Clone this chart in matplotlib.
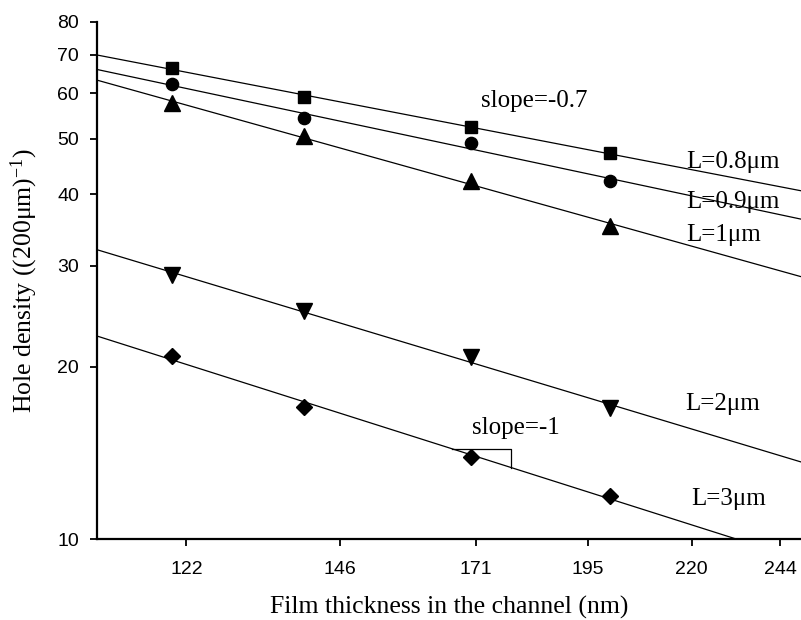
import numpy as np
import matplotlib
matplotlib.use("Agg")
import matplotlib.pyplot as plt
from matplotlib.ticker import FixedLocator, FixedFormatter, NullLocator

# ---- data ----
thickness = [120, 140, 170, 200]
dens_L08 = [66.3, 59.2, 52.4, 47.1]
dens_L09 = [62.2, 54.3, 49.2, 42.1]
dens_L1 = [57.6, 50.5, 42.1, 35.2]
dens_L2 = [28.9, 25.0, 20.8, 16.9]
dens_L3 = [20.9, 17.0, 13.9, 11.9]
series = [
    ("L=0.8μm", dens_L08, "s", 8.5),
    ("L=0.9μm", dens_L09, "o", 8.8),
    ("L=1μm", dens_L1, "^", 11),
    ("L=2μm", dens_L2, "v", 11),
    ("L=3μm", dens_L3, "D", 8),
]
xticks = [122, 146, 171, 195, 220, 244]
yticks = [10, 20, 30, 40, 50, 60, 70, 80]

plt.rcParams['mathtext.fontset'] = 'custom'
plt.rcParams['mathtext.rm'] = 'Liberation Serif'
plt.rcParams['mathtext.it'] = 'Liberation Serif:italic'

fig = plt.figure(figsize=(8.01, 6.20), dpi=100)
ax = fig.add_axes([97/801, (620-539)/620, (801-97)/801, (539-21.7)/620])
ax.set_xscale('log')
ax.set_yscale('log')
xmin, xmax = 109.9, 250.0
ax.set_xlim(xmin, xmax)
ax.set_ylim(10, 80)

xline = np.array([xmin, xmax])
lx = np.log(thickness)
fits = {}
for name, vals, mk, ms in series:
    p = np.polyfit(lx, np.log(vals), 1)
    fits[name] = p
    ax.plot(xline, np.exp(np.polyval(p, np.log(xline))), color='black', lw=0.9)
    ax.plot(thickness, vals, linestyle='none', marker=mk, markersize=ms,
            color='black', clip_on=False)

# slope triangle on L=3 line
p3 = fits["L=3μm"]
x0, x1 = 166.4, 178.2
y0 = np.exp(np.polyval(p3, np.log(x0)))
y1 = np.exp(np.polyval(p3, np.log(x1)))
ax.plot([x0, x1, x1], [y0, y0, y1], color='black', lw=0.9)

serif = 'Liberation Serif'
tfs = 18
ax.text(172.1, 58.1, "slope=-0.7", family=serif, fontsize=tfs, va='center')
ax.text(218.7, 45.6, "L=0.8μm", family=serif, fontsize=tfs, va='center')
ax.text(218.7, 38.8, "L=0.9μm", family=serif, fontsize=tfs, va='center')
ax.text(218.7, 34.0, "L=1μm", family=serif, fontsize=tfs, va='center')
ax.text(218.5, 17.2, "L=2μm", family=serif, fontsize=tfs, va='center')
ax.text(170.3, 15.65, "slope=-1", family=serif, fontsize=tfs, va='center')
ax.text(219.9, 11.75, "L=3μm", family=serif, fontsize=tfs, va='center')

ax.xaxis.set_major_locator(FixedLocator(xticks))
ax.xaxis.set_major_formatter(FixedFormatter([str(t) for t in xticks]))
ax.xaxis.set_minor_locator(NullLocator())
ax.yaxis.set_major_locator(FixedLocator(yticks))
ax.yaxis.set_major_formatter(FixedFormatter([str(t) for t in yticks]))
ax.yaxis.set_minor_locator(NullLocator())

for s in ['top', 'right']:
    ax.spines[s].set_visible(False)
for s in ['left', 'bottom']:
    ax.spines[s].set_linewidth(1.6)
ax.tick_params(axis='both', direction='out', length=5, width=1.3,
               labelsize=14, pad=8)
ax.tick_params(axis='x', pad=11)
for lab in ax.get_xticklabels() + ax.get_yticklabels():
    lab.set_family('Liberation Sans')

ax.set_xlabel("Film thickness in the channel (nm)", family=serif, fontsize=18.5, labelpad=13)
ax.set_ylabel("Hole density ((200μm)$^{-1}$)", family=serif, fontsize=18.5, labelpad=12)

fig.savefig("out.png", dpi=100)
